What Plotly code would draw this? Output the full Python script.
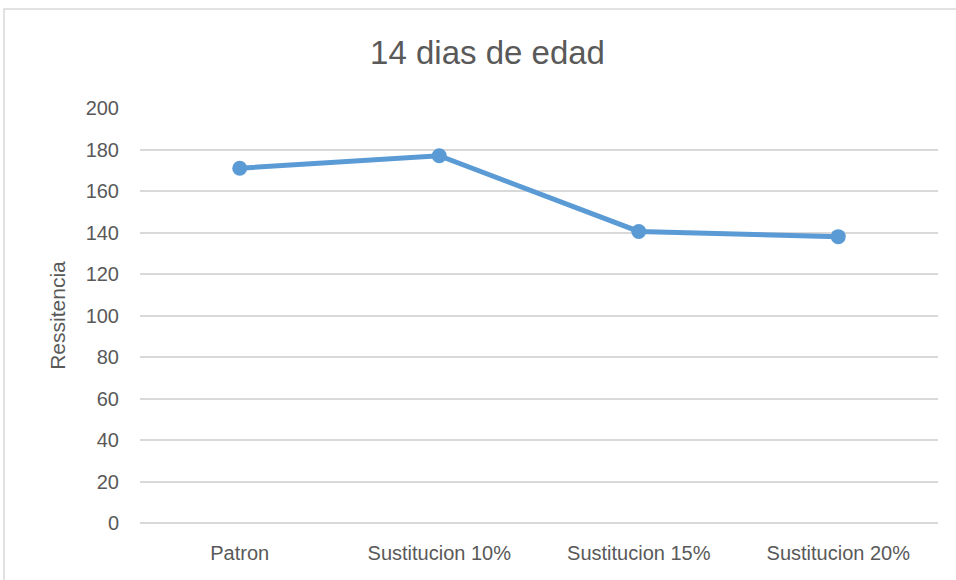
import plotly.graph_objects as go

categorias = ["Patron", "Sustitucion 10%", "Sustitucion 15%", "Sustitucion 20%"]
resistencia = [171, 177, 140.5, 138]
ticks_y = [0, 20, 40, 60, 80, 100, 120, 140, 160, 180, 200]

gris = "#595959"
fuente = "Liberation Sans"

fig = go.Figure()
fig.add_trace(go.Scatter(
    x=categorias, y=resistencia, mode="lines+markers",
    line=dict(color="#5B9BD5", width=5),
    marker=dict(color="#5B9BD5", size=15),
    showlegend=False,
))

# marco gris claro del grafico
fig.add_shape(type="rect", xref="paper", yref="paper",
              x0=-136 / 798, x1=1.2, y0=-0.3, y1=1 + 99 / 415,
              line=dict(color="#D9D9D9", width=1.5), layer="below")

fig.update_layout(
    width=956, height=580,
    margin=dict(l=140, r=18, t=108, b=57),
    paper_bgcolor="white", plot_bgcolor="white",
    font=dict(family=fuente, color=gris, size=20),
    title=dict(text="14 dias de edad", x=0.51, xanchor="center",
               y=1 - 52 / 580, yanchor="middle",
               font=dict(family=fuente, size=33, color=gris)),
)
fig.update_xaxes(range=[-0.5, 3.5], showgrid=False, showline=False,
                 zeroline=False, ticks="", ticklabelstandoff=16,
                 tickfont=dict(size=20, color=gris))
fig.update_yaxes(range=[0, 200], tickvals=ticks_y,
                 showgrid=True, gridcolor="#D9D9D9", gridwidth=1.5,
                 zeroline=True, zerolinecolor="#D9D9D9", zerolinewidth=1.5,
                 showline=False, ticks="", ticklabelstandoff=20,
                 tickfont=dict(size=20, color=gris),
                 title=dict(text="Ressitencia", standoff=14,
                            font=dict(size=21, color=gris)))

# quitar el margen del body para que el grafico ocupe toda la ventana
fig.write_html("out.html", config={"displayModeBar": False},
               post_script="document.body.style.margin='0';")
